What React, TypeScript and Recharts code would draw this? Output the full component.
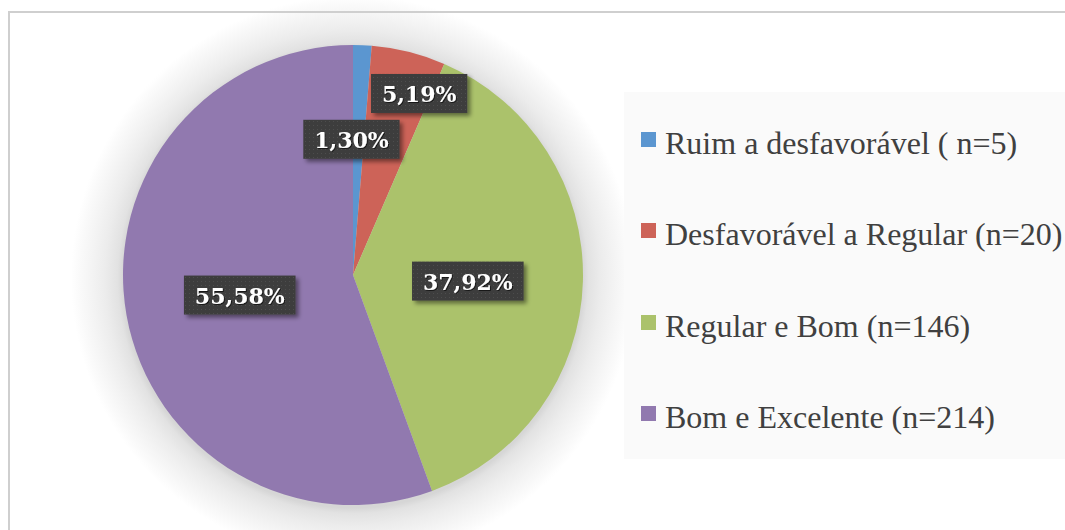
import { PieChart, Pie, Cell, Legend } from "recharts";

const categories = [
  "Ruim a desfavorável ( n=5)",
  "Desfavorável a Regular (n=20)",
  "Regular e Bom (n=146)",
  "Bom e Excelente (n=214)",
];
const counts = [5, 20, 146, 214];
const colors = ["#5b96d0", "#cd6358", "#abc26b", "#9179af"];

// label nudges, roughly like Excel's "best fit"
const labelPlacement = [
  { r: 0.59, da: 3 },
  { r: 0.84, da: -6 },
  { r: 0.5, da: -1.4 },
  { r: 0.5, da: 0 },
];

const data = categories.map((name, i) => ({ name, value: counts[i] }));
const RAD = Math.PI / 180;

const charW: Record<string, number> = { ",": 0.38, "%": 1.0 };
const textWidth = (s: string, fs: number) =>
  s.split("").reduce((w, c) => w + (charW[c] ?? 0.696) * fs, 0);

const renderLabel = (p: any) => {
  const { cx, cy, midAngle, outerRadius, percent, index } = p;
  const pl = labelPlacement[index];
  const a = (midAngle + pl.da) * RAD;
  const r = outerRadius * pl.r;
  const x = cx + r * Math.cos(a);
  const y = cy - r * Math.sin(a);
  const text = (percent * 100).toFixed(2).replace(".", ",") + "%";
  const w = textWidth(text, 22) + 20;
  const h = 39;
  return (
    <g key={"lbl" + index}>
      <rect
        x={x - w / 2}
        y={y - h / 2}
        width={w}
        height={h}
        fill="url(#dots)"
        filter="url(#boxShadow)"
      />
      <text
        x={x}
        y={y + 9}
        textAnchor="middle"
        fill="#ffffff"
        fontFamily="'DejaVu Serif', serif"
        fontWeight="bold"
        fontSize={22}
        filter="url(#textShadow)"
      >
        {text}
      </text>
    </g>
  );
};

// legend built straight from the categories so order stays as in the source
const renderLegend = () => (
  <div style={{ paddingTop: 5.5, paddingLeft: 17 }}>
    {categories.map((name, i) => (
      <div
        key={name}
        style={{
          height: 91.5,
          lineHeight: "91.5px",
          whiteSpace: "nowrap",
          fontFamily: "'Liberation Serif', serif",
          fontSize: 32,
          color: "#404040",
        }}
      >
        <span
          style={{
            display: "inline-block",
            width: 15,
            height: 15,
            background: colors[i],
            marginRight: 9,
            marginBottom: 7,
            verticalAlign: "baseline",
          }}
        />
        {name}
      </div>
    ))}
  </div>
);

const App = () => {
  return (
    <div
      style={{
        position: "relative",
        width: 1065,
        height: 530,
        background:
          "radial-gradient(circle 282px at 353px 278px, #d6d6d6 0%, #d6d6d6 81.5%, #e2e2e2 83.5%, #ececec 88%, #f4f4f4 93%, #fafafa 97%, #ffffff 100%)",
      }}
    >
      <style>{`html,body{margin:0;overflow:hidden}`}</style>
      <div
        style={{
          position: "absolute",
          left: 8,
          top: 11,
          width: 1057,
          height: 519,
          boxSizing: "border-box",
          borderTop: "2px solid #cfcfcf",
          borderLeft: "2px solid #cfcfcf",
        }}
      />
      <div style={{ position: "absolute", left: 0, top: 0 }}>
        <PieChart width={1065} height={530} margin={{ top: 0, right: 0, bottom: 0, left: 0 }}>
          <defs>
            <pattern id="dots" width="4" height="4" patternUnits="userSpaceOnUse">
              <rect width="4" height="4" fill="#3d3d3d" />
              <rect x="1" y="1" width="1" height="1" fill="#4d4d4d" />
            </pattern>
            <filter id="boxShadow" x="-20%" y="-30%" width="150%" height="180%">
              <feDropShadow dx="3" dy="3" stdDeviation="2" floodColor="#000" floodOpacity="0.45" />
            </filter>
            <filter id="textShadow" x="-10%" y="-20%" width="130%" height="150%">
              <feDropShadow dx="1" dy="1" stdDeviation="0.6" floodColor="#000" floodOpacity="0.6" />
            </filter>
          </defs>
          <Pie
            data={data}
            dataKey="value"
            nameKey="name"
            cx={353}
            cy={275}
            outerRadius={230}
            startAngle={90}
            endAngle={-270}
            stroke="none"
            label={renderLabel}
            labelLine={false}
            isAnimationActive={false}
          >
            {data.map((d, i) => (
              <Cell key={d.name} fill={colors[i]} />
            ))}
          </Pie>
          <Legend
            layout="vertical"
            align="right"
            verticalAlign="middle"
            content={renderLegend}
            wrapperStyle={{
              left: 624,
              top: 92,
              width: 441,
              height: 367,
              background: "#fafafa",
            }}
          />
        </PieChart>
      </div>
    </div>
  );
};

export default App;
